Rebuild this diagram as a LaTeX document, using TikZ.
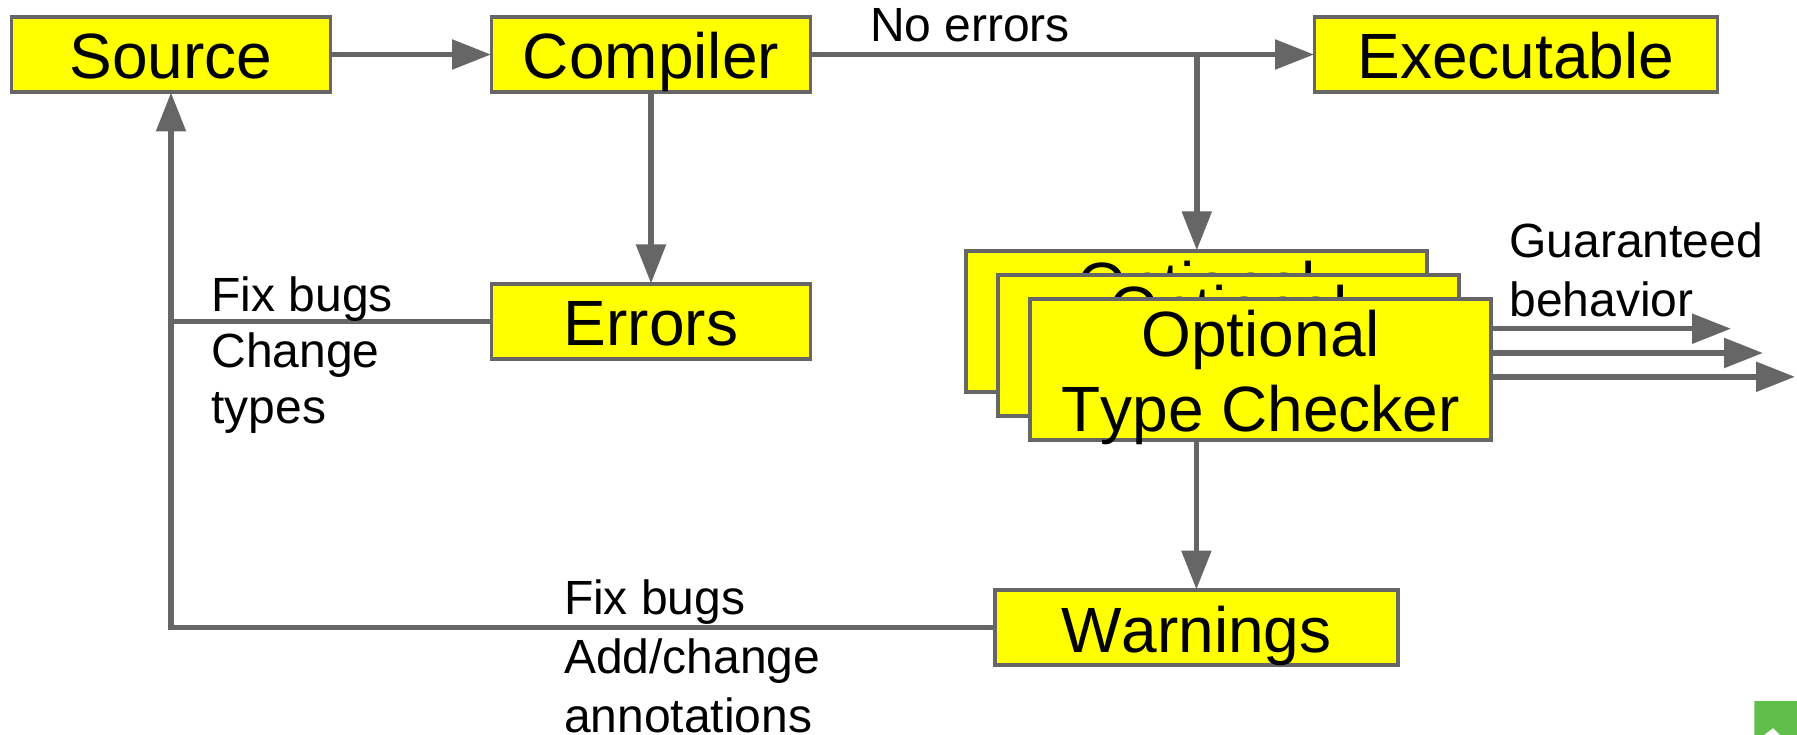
\documentclass[tikz,border=0pt]{standalone}
\usepackage{fontspec}
\setmainfont[Kerning=Off]{Liberation Sans}
\usetikzlibrary{arrows.meta,calc}
\definecolor{linegray}{HTML}{666666}
\definecolor{boxyellow}{HTML}{FFFF00}
\definecolor{cornergreen}{HTML}{60BF4A}
\tikzset{
  box/.style={draw=linegray,fill=boxyellow,line width=3.7pt,inner sep=0pt,outer sep=0.5pt,
    minimum height=75pt,font=\fontsize{64}{75}\selectfont,text=black,
    text height=54pt,text depth=5pt},
  widebox/.style={box,minimum width=403pt},
  shortbox/.style={box,minimum width=319pt},
  stackbox/.style={box,minimum width=461pt,minimum height=141pt,align=center,
    text height=123pt,text depth=0pt},
  conn/.style={draw=linegray,line width=5.5pt},
  arrow/.style={conn,-{Triangle[length=39pt,width=29pt]}},
  lbl/.style={inner sep=0pt,outer sep=0pt,anchor=north west,align=left,text=black},
  lblA/.style={lbl,font=\fontsize{48}{56}\selectfont},
  lblB/.style={lbl,font=\fontsize{48}{59}\selectfont},
}
\begin{document}
\begin{tikzpicture}[x=1pt,y=-1pt]
\useasboundingbox (0,0) rectangle (1797,735);
\fill[white] (0,0) rectangle (1797,735);

% corner mark
\fill[cornergreen] (1754.3,701) -- (1797,701) -- (1797,735) -- (1780,735) -- (1773,728) -- (1764,735) -- (1754.3,735) -- cycle;

\node[shortbox] (src) at (171,54.5) {Source};
\node[shortbox] (cmp) at (651,54.5) {Compiler};
\node[widebox] (exe) at (1516,54.5) {Executable};
\node[shortbox] (err) at (651,321.5) {Errors};
\node[widebox] (war) at (1196.4,627.5) {Warnings};

% stacked checkers, each with its own output arrow
\node[stackbox] (tc1) at (1196.8,321.3) {Optional\\Type Checker};
\coordinate (out1) at (1731,328.7);
\draw[arrow] (tc1.east |- out1) -- (out1);
\node[stackbox] (tc2) at (1228.8,345.3) {Optional\\Type Checker};
\coordinate (out2) at (1763,353);
\draw[arrow] (tc2.east |- out2) -- (out2);
\node[stackbox] (tc3) at (1260.8,369.5) {Optional\\Type Checker};
\coordinate (out3) at (1795,376.8);
\draw[arrow] (tc3.east |- out3) -- (out3);

% connectors
\draw[arrow] (src.east) -- (cmp.west);
\draw[arrow] (cmp.east) -- (exe.west);
\draw[arrow] (cmp.south) -- (err.north);
\draw[arrow] (tc1.north |- cmp.east) -- (tc1.north);
\draw[arrow] (war.north |- tc3.south) -- (war.north);
\draw[conn] (err.west) -- (src.south |- err.west);
\draw[arrow,line join=miter] (war.west) -- (src.south |- war.west) -- (src.south);

% labels
\node[lblA] (l1) at (211.5,277) {Fix bugs\\Change\\types};
\node[lblA] (l2) at (870,8) {No errors};
\node[lblB] (l3) at (1509.5,223) {Guaranteed\\behavior};
\node[lblB] (l4) at (564,579.5) {Fix bugs\\Add/change\\annotations};
\end{tikzpicture}
\end{document}
